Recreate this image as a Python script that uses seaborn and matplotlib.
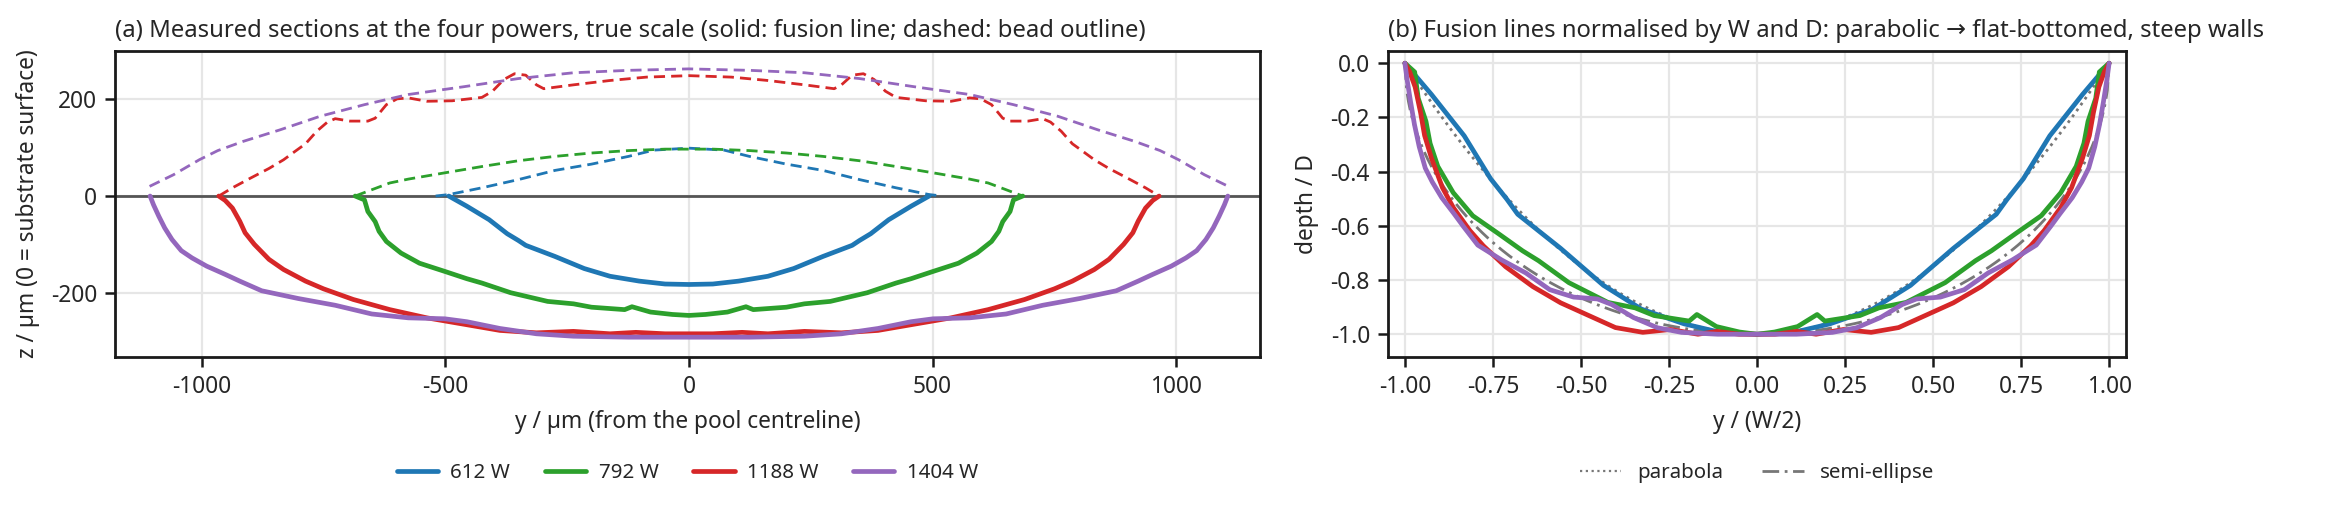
import numpy as np
import pandas as pd
import matplotlib
matplotlib.use("Agg")
import matplotlib.pyplot as plt
import seaborn as sns
from matplotlib.lines import Line2D

# ---------------- data (half profiles, left side; mirrored about y=0) ----------------
powers = ["612 W", "792 W", "1188 W", "1404 W"]
colors = ["#1f77b4", "#2ca02c", "#d62728", "#9467bd"]

# fusion lines (solid): y [um], z [um]
fus_612_y = [-493, -456, -410, -373, -350, -335, -275, -215, -162, -102, -49, 0]
fus_612_z = [0, -21, -49, -78, -92, -102, -125, -150, -166, -176, -182, -183]

fus_792_y = [-685, -666, -659, -644, -636, -621, -591, -553, -501, -456, -425, -366, -290, -237, -200, -132, -117, -79, -34, 0]
fus_792_z = [0, -8, -32, -53, -73, -94, -118, -139, -156, -171, -180, -200, -218, -223, -230, -235, -229, -240, -245, -247]

fus_1188_y = [-965, -952, -937, -922, -911, -892, -862, -832, -787, -750, -689, -614, -538, -463, -388, -313, -237, -162, -109, -49, 0]
fus_1188_z = [0, -9, -25, -52, -76, -100, -131, -152, -176, -192, -214, -235, -252, -265, -278, -283, -280, -285, -282, -285, -285]

fus_1404_y = [-1106, -1099, -1088, -1076, -1061, -1042, -1020, -990, -952, -922, -877, -802, -726, -651, -576, -501, -456, -388, -313, -237, -124, 0]
fus_1404_z = [0, -18, -42, -66, -90, -113, -128, -145, -162, -176, -196, -212, -226, -244, -252, -254, -260, -274, -285, -290, -292, -292]

# bead outlines (dashed): y [um], z [um]
bead_612_y = [-520, -493, -425, -350, -275, -200, -124, -72, 0]
bead_612_z = [0, 3, 17, 34, 53, 66, 82, 95, 99]

bead_792_y = [-685, -651, -614, -576, -501, -425, -350, -275, -200, -124, -49, 0]
bead_792_z = [0, 13, 27, 35, 48, 61, 73, 82, 89, 94, 97, 97]

bead_1188_y = [-965, -937, -900, -862, -832, -809, -787, -764, -742, -726, -696, -659, -644, -621, -599, -576,
               -538, -486, -425, -403, -380, -358, -335, -313, -298, -237, -162, -87, 0]
bead_1188_z = [0, 17, 37, 57, 75, 92, 108, 134, 153, 160, 155, 155, 161, 189, 201, 203,
               196, 197, 204, 217, 241, 253, 250, 230, 222, 230, 239, 246, 249]

bead_1404_y = [-1107, -1058, -1005, -967, -915, -839, -757, -666, -576, -463, -350, -237, -124, 0]
bead_1404_z = [20, 44, 75, 94, 113, 137, 165, 189, 210, 226, 243, 255, 260, 263]

fusion = [(fus_612_y, fus_612_z), (fus_792_y, fus_792_z), (fus_1188_y, fus_1188_z), (fus_1404_y, fus_1404_z)]
beads = [(bead_612_y, bead_612_z), (bead_792_y, bead_792_z), (bead_1188_y, bead_1188_z), (bead_1404_y, bead_1404_z)]


def mirror(y, z):
    y = np.asarray(y, float)
    z = np.asarray(z, float)
    yy = np.concatenate([y, -y[::-1][1:]])
    zz = np.concatenate([z, z[::-1][1:]])
    return yy, zz


# ---------------- style ----------------
sns.set_theme(style="ticks")
plt.rcParams["font.family"] = ["Noto Sans", "DejaVu Sans"]
plt.rcParams["axes.unicode_minus"] = False
plt.rcParams["lines.solid_joinstyle"] = "round"
FS = 8.2
LW = 1.7

W, H, DPI = 2334, 513, 200
fig = plt.figure(figsize=(W / DPI, H / DPI), dpi=DPI)
axA = fig.add_axes([115 / W, 1 - 357 / H, (1260 - 115) / W, (357 - 51) / H])
axB = fig.add_axes([1388 / W, 1 - 357 / H, (2126 - 1388) / W, (357 - 51) / H])

for ax in (axA, axB):
    ax.grid(True, color="#e6e6e6", lw=0.8)
    ax.set_axisbelow(True)
    for s in ax.spines.values():
        s.set_color("#1a1a1a")
        s.set_linewidth(1.0)
    ax.tick_params(labelsize=FS, length=3.5, width=0.9, color="#1a1a1a", pad=3)

# ---------------- panel (a) ----------------
axA.axhline(0, color="#555555", lw=1.0, zorder=1)
for (fy, fz), (by, bz), c, lab in zip(fusion, beads, colors, powers):
    yy, zz = mirror(fy, fz)
    sns.lineplot(x=yy, y=zz, ax=axA, color=c, lw=LW, sort=False, estimator=None, legend=False)
    yy, zz = mirror(by, bz)
    sns.lineplot(x=yy, y=zz, ax=axA, color=c, lw=1.0, ls=(0, (4, 2.2)), sort=False, estimator=None, legend=False)

axA.set_xlim(-1178, 1172)
axA.set_ylim(-333, 300)
axA.set_xticks([-1000, -500, 0, 500, 1000])
axA.set_yticks([-200, 0, 200])
axA.set_xlabel("y / µm (from the pool centreline)", fontsize=FS)
axA.set_ylabel("z / µm (0 = substrate surface)", fontsize=FS)
axA.set_title("(a) Measured sections at the four powers, true scale (solid: fusion line; dashed: bead outline)",
              loc="left", fontsize=FS + 0.4, pad=5)

# ---------------- panel (b) ----------------
xs = np.linspace(-1, 1, 401)
sns.lineplot(x=xs, y=-(1 - xs ** 2), ax=axB, color="#777777", lw=1.0, ls=(0, (1, 1.6)), sort=False,
             estimator=None, zorder=1)
sns.lineplot(x=xs, y=-np.sqrt(np.clip(1 - xs ** 2, 0, None)), ax=axB, color="#777777", lw=1.0,
             ls=(0, (6, 2, 1, 2)), sort=False, estimator=None, zorder=1)
for (fy, fz), c in zip(fusion, colors):
    yy, zz = mirror(fy, fz)
    half_w = np.max(np.abs(yy))
    depth = -np.min(zz)
    sns.lineplot(x=yy / half_w, y=zz / depth, ax=axB, color=c, lw=LW, sort=False, estimator=None, zorder=3)

axB.set_xlim(-1.048, 1.048)
axB.set_ylim(-1.084, 0.045)
axB.set_xticks([-1.0, -0.75, -0.5, -0.25, 0.0, 0.25, 0.5, 0.75, 1.0])
axB.set_xticklabels(["-1.00", "-0.75", "-0.50", "-0.25", "0.00", "0.25", "0.50", "0.75", "1.00"])
axB.set_yticks([0.0, -0.2, -0.4, -0.6, -0.8, -1.0])
axB.set_yticklabels(["0.0", "-0.2", "-0.4", "-0.6", "-0.8", "-1.0"])
axB.set_xlabel("y / (W/2)", fontsize=FS)
axB.set_ylabel("depth / D", fontsize=FS)
axB.set_title("(b) Fusion lines normalised by W and D: parabolic \u2192 flat-bottomed, steep walls",
              loc="left", fontsize=FS + 0.4, pad=5)

# ---------------- legends ----------------
hA = [Line2D([], [], color=c, lw=LW) for c in colors]
fig.legend(hA, powers, loc="center", bbox_to_anchor=((115 + 1260) / 2 / W, 1 - 473 / H), ncol=4,
           frameon=False, fontsize=FS - 0.8, handlelength=2.0, handletextpad=0.6, columnspacing=1.7)
hB = [Line2D([], [], color="#777777", lw=0.8, ls=(0, (1, 1.6))),
      Line2D([], [], color="#777777", lw=1.0, ls=(0, (6, 2, 1, 2)))]
fig.legend(hB, ["parabola", "semi-ellipse"], loc="center", bbox_to_anchor=((1388 + 2126) / 2 / W, 1 - 473 / H),
           ncol=2, frameon=False, fontsize=FS - 0.8, handlelength=2.0, handletextpad=0.8, columnspacing=1.9)

fig.savefig("out.png", dpi=DPI)
